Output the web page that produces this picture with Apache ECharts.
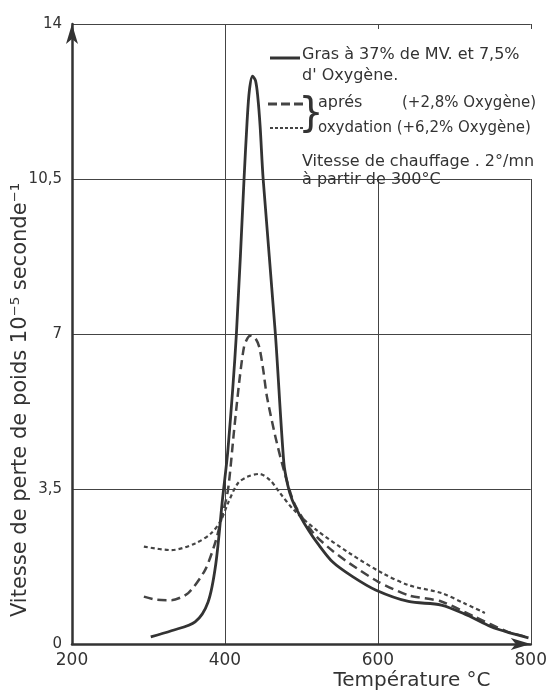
<!DOCTYPE html>
<html>
<head>
<meta charset="utf-8">
<script src="https://cdn.jsdelivr.net/npm/echarts@6/dist/echarts.min.js"></script>
<style>html,body{margin:0;padding:0;background:#fff;}#c{width:550px;height:695px;}</style>
</head>
<body>
<div id="c"></div>
<script>
// ---- data ----
const tempSolid = [303,330,361,378,388,397,404,415,425,429,432,436,440,443,446,450,466,477,482,488,498,510,520,541,567,597,640,683,717,748,775,797];
const valSolid  = [0.16,0.3,0.5,0.95,1.8,3.3,4.4,7.0,10.5,11.8,12.5,12.82,12.72,12.35,11.7,10.5,7.0,4.1,3.6,3.25,2.9,2.55,2.3,1.85,1.52,1.22,0.96,0.88,0.65,0.39,0.24,0.14];

const tempDashed = [294,310,330,352,374,387,395,404,412,419,425,430,434,440,445,450,455,466,477,490,505,520,541,563,600,640,683,726,769,797];
const valDashed  = [1.07,1.0,0.99,1.15,1.67,2.27,2.8,3.48,4.83,5.96,6.71,6.92,6.96,6.9,6.7,6.2,5.58,4.68,3.93,3.2,2.75,2.42,2.1,1.82,1.41,1.1,0.96,0.62,0.28,0.15];

const tempDotted = [294,330,361,382,395,404,417,430,445,459,472,490,520,563,606,640,683,713,740];
const valDotted  = [2.2,2.12,2.27,2.5,2.8,3.18,3.63,3.78,3.84,3.7,3.41,3.03,2.57,2.05,1.6,1.33,1.15,0.92,0.70];

const xTickLabels = ['200','400','600','800'];
const yTickLabels = ['0','3,5','7','10,5','14'];

const legendLines = {
  solid1: 'Gras à 37% de MV. et 7,5%',
  solid2: "d' Oxygène.",
  dashedA: 'aprés',
  dashedB: '(+2,8% Oxygène)',
  dotted: 'oxydation (+6,2% Oxygène)',
  note1: 'Vitesse de chauffage . 2°/mn',
  note2: 'à partir de 300°C'
};
const xName = 'Température °C';
const yName = 'Vitesse de perte de poids 10⁻⁵ seconde⁻¹';

// ---- chart ----
const INK = '#333333';
const FONT = 'DejaVu Sans';
const pairs = (xs, ys) => xs.map((x, i) => [x, ys[i]]);

const chart = echarts.init(document.getElementById('c'), null, {renderer: 'canvas'});
chart.setOption({
  backgroundColor: '#ffffff',
  animation: false,
  grid: {left: 72, right: 13, top: 24, bottom: 51, containLabel: false},
  xAxis: {
    type: 'value', min: 200, max: 800, interval: 200,
    axisLine: {show: true, lineStyle: {color: INK, width: 2.5}, symbol: ['none', 'arrow'], symbolSize: [9, 20], symbolOffset: [0, 0]},
    axisTick: {show: false},
    splitLine: {show: true, lineStyle: {color: '#444', width: 1}},
    axisLabel: {color: INK, fontFamily: FONT, fontSize: 17, margin: 8,
      formatter: v => xTickLabels[Math.round((v - 200) / 200)]}
  },
  yAxis: {
    type: 'value', min: 0, max: 14, interval: 3.5,
    axisLine: {show: true, lineStyle: {color: INK, width: 2.5}, symbol: ['none', 'arrow'], symbolSize: [9, 20], symbolOffset: [0, 0]},
    axisTick: {show: false},
    splitLine: {show: true, lineStyle: {color: '#444', width: 1}},
    axisLabel: {color: INK, fontFamily: FONT, fontSize: 15, margin: 10,
      formatter: v => yTickLabels[Math.round(v / 3.5)]}
  },
  series: [
    {type: 'line', data: pairs(tempSolid, valSolid), smooth: 0.3, symbol: 'none', z: 5,
      lineStyle: {color: INK, width: 2.8, type: 'solid'}},
    {type: 'line', data: pairs(tempDashed, valDashed), smooth: 0.25, symbol: 'none', z: 4,
      lineStyle: {color: '#444', width: 2.5, type: [9, 5]}},
    {type: 'line', data: pairs(tempDotted, valDotted), smooth: 0.3, symbol: 'none', z: 3,
      lineStyle: {color: '#444', width: 2.2, type: [4, 3]}}
  ],
  graphic: [
    {type: 'rect', z: 1, shape: {x: 290, y: 29, width: 244, height: 150}, style: {fill: '#ffffff'}},
    {type: 'line', z: 6, shape: {x1: 270, y1: 58, x2: 300, y2: 58}, style: {stroke: INK, lineWidth: 3}},
    {type: 'line', z: 6, shape: {x1: 268, y1: 104, x2: 305, y2: 104}, style: {stroke: '#444', lineWidth: 3, lineDash: [9, 4]}},
    {type: 'line', z: 6, shape: {x1: 270, y1: 128, x2: 305, y2: 128}, style: {stroke: '#444', lineWidth: 2, lineDash: [3, 2]}},
    {type: 'text', z: 6, x: 302, y: 55, style: {text: legendLines.solid1, font: '16px ' + FONT, fill: INK, textVerticalAlign: 'middle'}},
    {type: 'text', z: 6, x: 302, y: 76, style: {text: legendLines.solid2, font: '16px ' + FONT, fill: INK, textVerticalAlign: 'middle'}},
    {type: 'text', z: 6, x: 311, y: 116, style: {text: '}', font: '40px ' + FONT, fill: INK, textAlign: 'center', textVerticalAlign: 'middle'}},
    {type: 'text', z: 6, x: 318, y: 103, style: {text: legendLines.dashedA, font: '16px ' + FONT, fill: INK, textVerticalAlign: 'middle'}},
    {type: 'text', z: 6, x: 402, y: 103, style: {text: legendLines.dashedB, font: '15px ' + FONT, fill: INK, textVerticalAlign: 'middle'}},
    {type: 'text', z: 6, x: 318, y: 128, style: {text: legendLines.dotted, font: '15px ' + FONT, fill: INK, textVerticalAlign: 'middle'}},
    {type: 'text', z: 6, x: 302, y: 162, style: {text: legendLines.note1, font: '16px ' + FONT, fill: INK, textVerticalAlign: 'middle'}},
    {type: 'text', z: 6, x: 302, y: 180, style: {text: legendLines.note2, font: '16px ' + FONT, fill: INK, textVerticalAlign: 'middle'}},
    {type: 'text', z: 6, x: 412, y: 681, style: {text: xName, font: '20px ' + FONT, fill: INK, textAlign: 'center', textVerticalAlign: 'middle'}},
    {type: 'text', z: 6, x: 21, y: 400, rotation: Math.PI / 2, style: {text: yName, font: '21px ' + FONT, fill: INK, textAlign: 'center', textVerticalAlign: 'middle'}}
  ]
});
</script>
</body>
</html>
